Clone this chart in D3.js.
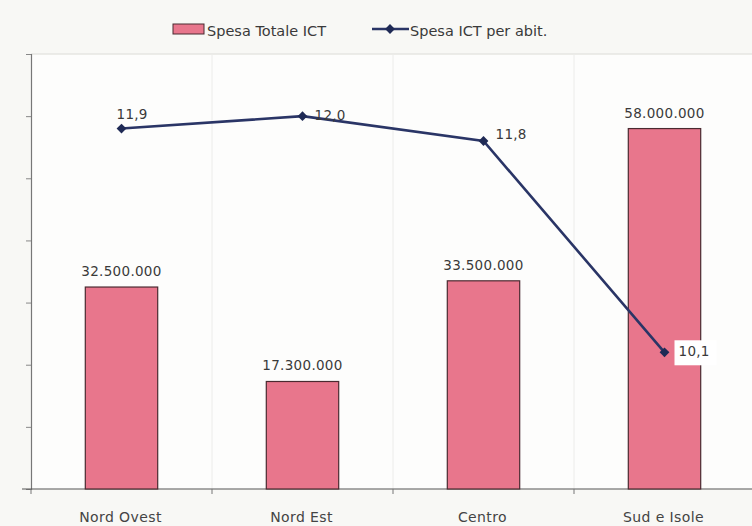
<!DOCTYPE html>
<html>
<head>
<meta charset="utf-8">
<script src="https://cdn.jsdelivr.net/npm/d3@7"></script>
<style>
  html, body { margin: 0; padding: 0; background: #f8f8f5; }
  svg { display: block; }
  text { font-family: "DejaVu Sans", Verdana, sans-serif; fill: #3a3a3a; }
</style>
</head>
<body>
<svg id="chart" width="752" height="526"></svg>
<script>
// Regional ICT spending: total (bars) and per inhabitant (line)
const regions = ["Nord Ovest", "Nord Est", "Centro", "Sud e Isole"];
const spesaTotale = [32500000, 17300000, 33500000, 58000000];
const spesaPerAbit = [11.9, 12.0, 11.8, 10.1];
const totalTicks = [0, 10000000, 20000000, 30000000, 40000000, 50000000, 60000000, 70000000];

const fmtTot = v => d3.format(",")(v).replace(/,/g, ".");
const fmtAbit = v => d3.format(".1f")(v).replace(".", ",");

const svg = d3.select("#chart");
const W = 752, H = 526;
const m = { left: 31, right: -3, top: 54, bottom: 37 };
const plotW = W - m.left - m.right, plotH = H - m.top - m.bottom;

const g = svg.append("g").attr("transform", `translate(${m.left},${m.top})`);

const x = d3.scaleBand().domain(regions).range([0, plotW]).paddingInner(0.6).paddingOuter(0.3);
const xBand = d3.scaleBand().domain(regions).range([0, plotW]);
const y = d3.scaleLinear().domain([0, 70000000]).range([plotH, 0]);
const y2 = d3.scaleLinear().domain([9, 12.5]).range([plotH, 0]);

// plot background and faint frame
g.append("rect").attr("width", plotW).attr("height", plotH).attr("fill", "#fdfdfc");
g.append("line").attr("x1", 0).attr("x2", plotW).attr("y1", 0).attr("y2", 0)
  .attr("stroke", "#e6e6e2").attr("stroke-width", 1.5);

// faint vertical separators between categories
g.selectAll(".vsep").data(regions.slice(1)).join("line")
  .attr("class", "vsep")
  .attr("x1", d => xBand(d)).attr("x2", d => xBand(d))
  .attr("y1", 0).attr("y2", plotH)
  .attr("stroke", "#ececea").attr("stroke-width", 1);

// left axis (values hidden, ticks only)
const yAxis = g.append("g").call(d3.axisLeft(y).tickValues(totalTicks).tickSize(5).tickFormat(""));
yAxis.select(".domain").attr("stroke", "#777").attr("stroke-width", 1.2);
yAxis.selectAll(".tick line").attr("stroke", "#888");

// bottom axis with separators as tick marks
const xAxisG = g.append("g").attr("transform", `translate(0,${plotH})`);
xAxisG.append("line").attr("x1", -9).attr("x2", plotW).attr("stroke", "#555").attr("stroke-width", 1.2);
xAxisG.selectAll(".xt").data(regions).join("line")
  .attr("class", "xt")
  .attr("x1", d => xBand(d)).attr("x2", d => xBand(d))
  .attr("y1", 0).attr("y2", 5).attr("stroke", "#777");
xAxisG.selectAll(".xl").data(regions).join("text")
  .attr("class", "xl")
  .attr("x", d => xBand(d) + xBand.bandwidth() / 2 - 1)
  .attr("y", 33)
  .attr("text-anchor", "middle")
  .attr("font-size", 14)
  .attr("letter-spacing", 0.4)
  .style("fill", "#444")
  .text(d => d);

// bars
g.selectAll(".bar").data(regions).join("rect")
  .attr("class", "bar")
  .attr("x", d => x(d))
  .attr("y", (d, i) => y(spesaTotale[i]))
  .attr("width", x.bandwidth())
  .attr("height", (d, i) => plotH - y(spesaTotale[i]))
  .attr("fill", "#e8768c")
  .attr("stroke", "#4a2a30")
  .attr("stroke-width", 1.2);

g.selectAll(".barlab").data(regions).join("text")
  .attr("class", "barlab")
  .attr("x", d => x(d) + x.bandwidth() / 2)
  .attr("y", (d, i) => y(spesaTotale[i]) - 11)
  .attr("text-anchor", "middle")
  .attr("font-size", 13.5)
  .attr("letter-spacing", 0.3)
  .text((d, i) => fmtTot(spesaTotale[i]));

// per-inhabitant line
const cx = d => xBand(d) + xBand.bandwidth() / 2;
const line = d3.line().x((d, i) => cx(regions[i])).y(d => y2(d));
g.append("path").datum(spesaPerAbit)
  .attr("d", line)
  .attr("fill", "none")
  .attr("stroke", "#2a3566")
  .attr("stroke-width", 2.6);

// square markers turned 45° to form diamonds
const marker = d3.symbol().type(d3.symbolSquare).size(48);
g.selectAll(".pt").data(spesaPerAbit).join("path")
  .attr("class", "pt")
  .attr("transform", (d, i) => `translate(${cx(regions[i])},${y2(d)}) rotate(45)`)
  .attr("d", marker)
  .attr("fill", "#1f2a55");

// point labels
const labOffsets = [[-5, -10], [12, 4], [12, -2], [14, 4]];
const labs = g.selectAll(".ptlab").data(spesaPerAbit).join("g")
  .attr("class", "ptlab")
  .attr("transform", (d, i) => `translate(${cx(regions[i]) + labOffsets[i][0]},${y2(d) + labOffsets[i][1]})`);
labs.filter((d, i) => i === 3).append("rect")
  .attr("x", -4).attr("y", -16).attr("width", 42).attr("height", 25).attr("fill", "#ffffff");
labs.append("text")
  .attr("font-size", 13.5)
  .attr("letter-spacing", 0.3)
  .text(d => fmtAbit(d));

// legend
const lg = svg.append("g");
lg.append("rect").attr("x", 173).attr("y", 24).attr("width", 31).attr("height", 10)
  .attr("fill", "#e8768c").attr("stroke", "#4a2a30").attr("stroke-width", 1);
lg.append("text").attr("x", 207).attr("y", 36).attr("font-size", 14.5).text("Spesa Totale ICT");
lg.append("line").attr("x1", 372).attr("x2", 409).attr("y1", 29).attr("y2", 29)
  .attr("stroke", "#2a3566").attr("stroke-width", 2.4);
lg.append("path").attr("transform", "translate(390,29) rotate(45)").attr("d", marker).attr("fill", "#1f2a55");
lg.append("text").attr("x", 410).attr("y", 36).attr("font-size", 14.5).text("Spesa ICT per abit.");
</script>
</body>
</html>
